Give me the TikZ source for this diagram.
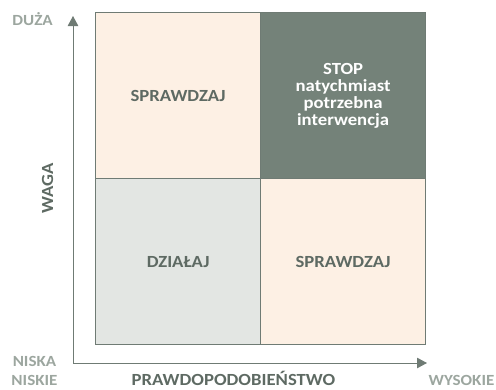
\documentclass[tikz,border=0pt]{standalone}
\usepackage{fontspec}
\setmainfont{Carlito}[FakeStretch=1.1]
\usetikzlibrary{arrows.meta}
\definecolor{peach}{HTML}{FDF0E4}
\definecolor{lightgrey}{HTML}{E3E6E3}
\definecolor{darkcell}{HTML}{748279}
\definecolor{frame}{HTML}{6F7B74}
\definecolor{ink}{HTML}{5E6A63}
\definecolor{faint}{HTML}{9CA69F}
\begin{document}
\begin{tikzpicture}[x=1pt,y=-1pt,
  cell/.style={draw=frame, line width=1.2pt, minimum width=165pt, minimum height=166pt, inner sep=0pt, anchor=north west, font=\fontsize{17}{17}\selectfont\bfseries, text=ink, align=center},
  axislbl/.style={font=\fontsize{17}{18}\selectfont\bfseries, text=ink, inner sep=0pt},
  endlbl/.style={font=\fontsize{15.5}{18}\selectfont\bfseries, text=faint, inner sep=0pt, anchor=base},
  axisline/.style={draw=frame, line width=1pt, -{Triangle[width=10.5pt,length=10pt]}}]
\useasboundingbox (0,0) rectangle (496,389);
% quadrants
\node[cell, fill=peach] (tl) at (95,12) {SPRAWDZAJ};
\node[cell, fill=darkcell, text=white] (tr) at (260,12) {STOP\\natychmiast\\potrzebna\\interwencja};
\node[cell, fill=lightgrey] (bl) at (95,178) {DZIAŁAJ};
\node[cell, fill=peach] (br) at (260,178) {SPRAWDZAJ};
% axes
\coordinate (origin) at (73,363);
\coordinate (ytop) at (73,16);
\coordinate (xend) at (427,363);
\draw[axisline] (origin) -- (ytop);
\draw[axisline] (origin) -- (xend);
% axis end labels
\node[endlbl] (duza) at (32.5,25) {DUŻA};
\node[endlbl] (niska) at (34.5,366) {NISKA};
\node[endlbl] (niskie) at (34.5,385.5) {NISKIE};
\node[endlbl] (wysokie) at (461.5,385.5) {WYSOKIE};
% axis titles
\node[axislbl, anchor=base] (prob) at (233.5,385.5) {PRAWDOPODOBIEŃSTWO};
\node[axislbl, rotate=90] (waga) at (47.5,188) {WAGA};
\end{tikzpicture}
\end{document}
